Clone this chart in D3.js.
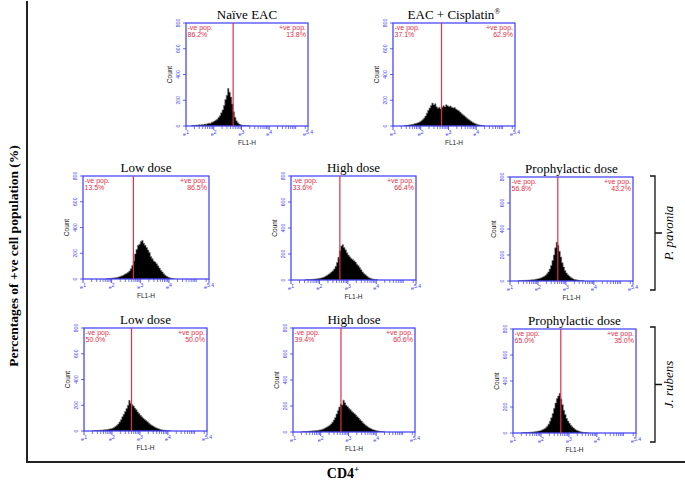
<!DOCTYPE html>
<html><head><meta charset="utf-8">
<script src="https://cdn.jsdelivr.net/npm/d3@7"></script>
<style>body{margin:0;background:#fff}svg{display:block}</style>
</head><body>
<svg id="c" width="685" height="481"></svg>
<script>
// ---------------- data ----------------
const panelTitles = ["Naïve EAC", "EAC + Cisplatin", "Low dose", "High dose", "Prophylactic dose", "Low dose", "High dose", "Prophylactic dose"];
const negPct = ["86.2%", "37.1%", "13.5%", "33.6%", "56.8%", "50.0%", "39.4%", "65.0%"];
const posPct = ["13.8%", "62.9%", "86.5%", "66.4%", "43.2%", "50.0%", "60.6%", "35.0%"];
const gateExp = [2.70, 2.75, 2.76, 2.72, 2.71, 2.70, 2.73, 2.71];
const binStart = [1.2, 1.4, 1.8, 1.5, 1.3, 1.3, 1.3, 1.3];
const binStep = 0.05;
const countsNaive = [3,5,4,7,6,9,8,12,10,15,13,18,22,20,28,32,38,45,52,66,80,102,125,160,205,238,292,262,225,170,110,68,40,26,15,10,6,4,3,2,2,1];
const countsCisplatin = [3,5,6,8,10,12,14,17,20,24,28,33,40,50,62,78,100,122,140,160,178,165,172,150,138,146,132,145,158,150,165,158,150,156,145,140,143,132,125,118,108,98,88,80,70,60,52,45,36,30,24,18,14,10,8,5,3,2];
const countsLowP = [2,3,4,5,7,8,10,12,14,18,22,26,32,38,44,52,62,80,105,140,195,230,262,270,292,300,278,262,245,225,205,175,158,140,132,118,102,85,68,55,40,30,22,15,10,7,4,2];
const countsHighP = [2,3,3,4,5,6,7,8,10,12,14,16,20,24,30,36,44,52,62,72,85,105,135,175,225,262,272,250,232,210,192,178,165,158,148,138,122,110,95,78,62,50,40,30,22,16,12,8,6,4,3];
const countsProphP = [2,3,3,4,5,5,6,7,8,9,10,12,14,16,18,21,25,30,36,44,55,70,92,120,158,200,255,298,275,228,185,140,108,80,62,48,38,28,22,16,12,9,7,5,4,3,2];
const countsLowJ = [2,3,3,4,5,6,7,8,9,10,12,14,16,18,22,28,35,44,55,70,88,110,130,152,175,200,238,215,205,195,178,165,148,135,122,110,100,90,82,72,62,52,45,38,32,26,21,17,13,10,8,6,5,4,3,2];
const countsHighJ = [2,3,3,4,5,6,7,8,9,10,11,12,14,16,18,22,27,32,38,45,52,62,75,92,112,138,165,192,215,208,245,225,205,195,182,172,160,150,140,130,118,108,95,84,72,62,52,44,36,30,25,20,16,13,10,8,6,4,3,2];
const countsProphJ = [2,3,3,4,4,5,6,7,8,9,11,13,15,18,22,26,32,40,52,68,90,118,150,190,230,265,285,305,262,218,175,142,112,92,75,60,48,38,29,22,17,13,10,7,5,4,3,2];
const allCounts = [countsNaive, countsCisplatin, countsLowP, countsHighP, countsProphP, countsLowJ, countsHighJ, countsProphJ];
const yTicks = [0, 200, 400, 600, 800];
const xTickExps = [1, 2, 3, 4, 5.4];
const xTickLabels = ["1", "2", "3", "4", "5.4"];
const groupLabels = ["P. pavonia", "J. rubens"];
const yAxisTitle = "Percentages of +ve cell population (%)";
const xAxisTitle = "CD4";

// ---------------- layout ----------------
const boxes = [
  [186, 23, 122, 103], [393, 23, 122, 103],
  [83, 176, 126, 103], [291, 176, 125, 104], [510, 177, 123, 104],
  [84, 328, 123, 103], [293, 328, 122, 104], [513, 329, 123, 104]
];
const BLUE = "#3b3bf5", RED = "#e0304a";
const svg = d3.select("#c");
const defs = svg.append("defs");

boxes.forEach((b, i) => {
  const [bx, by, bw, bh] = b;
  const g = svg.append("g").attr("transform", `translate(${bx},${by})`);
  const x = d3.scaleLinear().domain([1, 5.4]).range([0, bw]);
  const y = d3.scaleLinear().domain([0, 800]).range([bh, 0]);

  defs.append("clipPath").attr("id", "cp" + i).append("rect").attr("width", bw).attr("height", bh);

  // histogram
  const counts = allCounts[i];
  const pts = counts.map((c, k) => [binStart[i] + k * binStep, c]);
  pts.push([binStart[i] + counts.length * binStep, 0]);
  const area = d3.area().x(d => x(d[0])).y0(y(0)).y1(d => y(d[1])).curve(d3.curveStepAfter);
  g.append("path").datum(pts).attr("d", area).attr("fill", "#000")
    .attr("stroke", "#777").attr("stroke-width", 0.6).attr("clip-path", `url(#cp${i})`);

  // frame
  g.append("rect").attr("width", bw).attr("height", bh).attr("fill", "none")
    .attr("stroke", BLUE).attr("stroke-width", 1.2);

  // gate line
  g.append("line").attr("x1", x(gateExp[i])).attr("x2", x(gateExp[i]))
    .attr("y1", 0).attr("y2", bh).attr("stroke", RED).attr("stroke-width", 1.2);

  // y axis ticks
  yTicks.forEach(t => {
    g.append("line").attr("x1", -3).attr("x2", 0).attr("y1", y(t)).attr("y2", y(t)).attr("stroke", BLUE).attr("stroke-width", 0.8);
    g.append("text").attr("transform", `translate(-6,${y(t)}) rotate(-90)`)
      .attr("text-anchor", "middle").attr("font-family", "Liberation Sans, Arial").attr("font-size", 5)
      .attr("fill", BLUE).text(t);
  });
  g.append("text").attr("transform", `translate(-14,${bh / 2}) rotate(-90)`)
    .attr("text-anchor", "middle").attr("font-family", "Liberation Sans, Arial").attr("font-size", 6.5)
    .attr("fill", "#222").text("Count");

  // x axis ticks (log minor)
  for (let d = 1; d < 5.4; d++) {
    for (let m = 2; m <= 9; m++) {
      const e = d + Math.log10(m);
      if (e <= 5.4) g.append("line").attr("x1", x(e)).attr("x2", x(e)).attr("y1", bh).attr("y2", bh + 3)
        .attr("stroke", BLUE).attr("stroke-width", 0.7);
    }
  }
  xTickExps.forEach((e, k) => {
    g.append("line").attr("x1", x(e)).attr("x2", x(e)).attr("y1", bh).attr("y2", bh + 4)
      .attr("stroke", BLUE).attr("stroke-width", 0.9);
    const t = g.append("text").attr("x", x(e)).attr("y", bh + 10).attr("text-anchor", "middle")
      .attr("font-family", "Liberation Sans, Arial").attr("font-size", 5.5).attr("fill", BLUE);
    t.append("tspan").text("e");
    t.append("tspan").attr("dy", -2).attr("font-size", 5).text(xTickLabels[k]);
  });
  g.append("text").attr("x", bw / 2).attr("y", bh + 18.5).attr("text-anchor", "middle")
    .attr("font-family", "Liberation Sans, Arial").attr("font-size", 6.5).attr("fill", "#222").text("FL1-H");

  // population texts
  const tl = g.append("text").attr("font-family", "Liberation Sans, Arial").attr("font-size", 7).attr("fill", RED);
  tl.append("tspan").attr("x", 1.5).attr("y", 6.5).text("-ve pop.");
  tl.append("tspan").attr("x", 1.5).attr("y", 13.5).text(negPct[i]);
  const tr = g.append("text").attr("font-family", "Liberation Sans, Arial").attr("font-size", 7).attr("fill", RED).attr("text-anchor", "end");
  tr.append("tspan").attr("x", bw - 2).attr("y", 6.5).text("+ve pop.");
  tr.append("tspan").attr("x", bw - 2).attr("y", 13.5).text(posPct[i]);

  // title
  const tt = g.append("text").attr("x", bw / 2).attr("y", -4).attr("text-anchor", "middle")
    .attr("font-family", "Liberation Serif, Times New Roman").attr("font-size", 13).attr("fill", "#000").text(panelTitles[i]);
  if (i === 1) tt.append("tspan").attr("dy", -5).attr("font-size", 8).text("®");
});

// brackets and group labels
const brackets = [[655, 176, 290, 668], [655, 327, 442, 668]];
brackets.forEach((br, k) => {
  const [bx, y0, y1, lx] = br;
  const mid = (y0 + y1) / 2;
  svg.append("path").attr("d", `M${bx - 5},${y0}H${bx}V${y1}H${bx - 5}M${bx},${mid}H${bx + 7}`)
    .attr("fill", "none").attr("stroke", "#111").attr("stroke-width", 1.3);
  svg.append("text").attr("transform", `translate(${lx + 5},${mid}) rotate(-90)`)
    .attr("text-anchor", "middle").attr("font-family", "Liberation Serif, Times New Roman")
    .attr("font-style", "italic").attr("font-size", 13).text(groupLabels[k]);
});

// overall axes
svg.append("path").attr("d", "M27,1V462H685").attr("fill", "none").attr("stroke", "#222").attr("stroke-width", 2);
svg.append("text").attr("transform", "translate(18,256) rotate(-90)").attr("text-anchor", "middle")
  .attr("font-family", "Liberation Serif, Times New Roman").attr("font-weight", "bold").attr("font-size", 13.5).text(yAxisTitle);
const xt = svg.append("text").attr("x", 343).attr("y", 478).attr("text-anchor", "middle")
  .attr("font-family", "Liberation Serif, Times New Roman").attr("font-weight", "bold").attr("font-size", 14);
xt.append("tspan").text(xAxisTitle);
xt.append("tspan").attr("dy", -6).attr("font-size", 9).text("+");
</script>
</body></html>
